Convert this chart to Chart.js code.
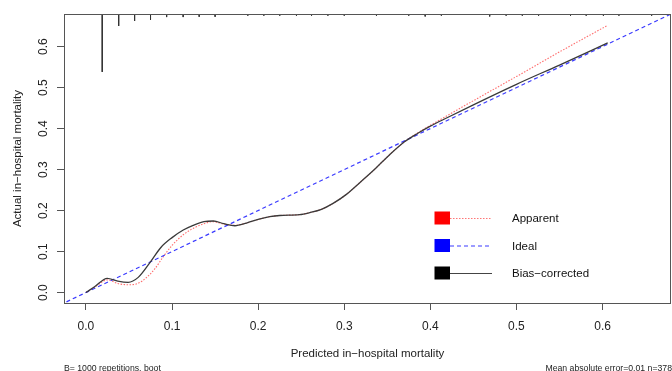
<!DOCTYPE html>
<html>
<head>
<meta charset="utf-8">
<script src="https://cdn.jsdelivr.net/npm/chart.js@4/dist/chart.umd.min.js"></script>
<style>
  html, body { margin: 0; padding: 0; background: #fff; }
  canvas { display: block; }
</style>
</head>
<body>
<canvas id="calib" width="672" height="371"></canvas>
<script>
// axis limits (same for both axes, R extends the range by 4%)
const axisMin = -0.0255;
const axisMax = 0.6795;
const tickValues = [0, 0.1, 0.2, 0.3, 0.4, 0.5, 0.6];
const tickLabels = ["0.0", "0.1", "0.2", "0.3", "0.4", "0.5", "0.6"];

// bias-corrected curve
const biasX = [0, 0.010, 0.0247, 0.037, 0.049, 0.0607, 0.0743, 0.087, 0.100, 0.113, 0.1245, 0.137, 0.148, 0.160, 0.173,
  0.1865, 0.200, 0.2135, 0.225, 0.248, 0.260, 0.2735, 0.287, 0.3025, 0.318, 0.335, 0.353, 0.370, 0.385, 0.400,
  0.420, 0.450, 0.500, 0.550, 0.606];
const biasY = [0, 0.014, 0.0348, 0.028, 0.025, 0.037, 0.073, 0.110, 0.134, 0.1525, 0.164, 0.173, 0.1745, 0.168, 0.163,
  0.1695, 0.1785, 0.185, 0.188, 0.190, 0.195, 0.203, 0.2175, 0.2395, 0.268, 0.300, 0.337, 0.368, 0.388, 0.406,
  0.427, 0.458, 0.508, 0.555, 0.609];

// apparent curve
const apparentX = [0, 0.010, 0.025, 0.037, 0.049, 0.060, 0.070, 0.080, 0.090, 0.100, 0.113, 0.125, 0.137, 0.148, 0.160, 0.173,
  0.1865, 0.200, 0.2135, 0.225, 0.248, 0.260, 0.2735, 0.287, 0.3025, 0.318, 0.335, 0.353, 0.370, 0.385, 0.400,
  0.420, 0.450, 0.500, 0.550, 0.606];
const apparentY = [0, 0.013, 0.031, 0.022, 0.019, 0.022, 0.036, 0.058, 0.088, 0.115, 0.141, 0.157, 0.168, 0.173, 0.167, 0.164,
  0.1695, 0.1785, 0.185, 0.188, 0.190, 0.195, 0.203, 0.2175, 0.2395, 0.268, 0.300, 0.337, 0.368, 0.389, 0.408,
  0.432, 0.468, 0.527, 0.587, 0.652];

// ideal line
const idealX = [-0.03, 0.69];
const idealY = [-0.03, 0.69];

// distribution of predictions (spikes hanging from the top)
const rugX = [0.0189, 0.038, 0.0565, 0.075, 0.0937, 0.1129, 0.1315, 0.150, 0.188, 0.2066, 0.2251, 0.2445, 0.262, 0.281, 0.300,
  0.3374, 0.3749, 0.394, 0.4128, 0.4689, 0.488, 0.5068, 0.5257, 0.5628, 0.581, 0.601, 0.619, 0.657];
const rugH = [0.1413, 0.0292, 0.0171, 0.0146, 0.0075, 0.0075, 0.0068, 0.0068, 0.004, 0.004, 0.004, 0.004, 0.004, 0.004, 0.004,
  0.004, 0.004, 0.006, 0.004, 0.006, 0.004, 0.004, 0.004, 0.004, 0.004, 0.004, 0.004, 0.004];

const legendItems = [
  { label: "Apparent", fill: "#ff0000", stroke: "rgba(255,60,60,0.7)", dash: [1.5, 1.5] },
  { label: "Ideal", fill: "#0000ff", stroke: "#3a3aff", dash: [4, 3] },
  { label: "Bias\u2212corrected", fill: "#000000", stroke: "#444", dash: [] }
];

const FONT = '"Liberation Sans", Arial, Helvetica, sans-serif';

function pts(xs, ys) {
  return xs.map((x, i) => ({ x, y: ys[i] }));
}

function rugPoints() {
  const out = [];
  rugX.forEach((x, i) => {
    out.push({ x, y: axisMax });
    out.push({ x, y: axisMax - rugH[i] });
    out.push({ x, y: null });
  });
  return out;
}

/* =======================
   TEXT, BOX, LEGEND
======================= */
const decorPlugin = {
  id: "decor",
  afterDraw(chart) {
    const ctx = chart.ctx;
    const a = chart.chartArea;
    const xs = chart.scales.x, ys = chart.scales.y;

    ctx.save();
    // box
    ctx.strokeStyle = "#555";
    ctx.lineWidth = 1;
    ctx.strokeRect(Math.round(a.left) + 0.5, Math.round(a.top) + 0.5,
      Math.round(a.right - a.left) - 1, Math.round(a.bottom - a.top));

    ctx.fillStyle = "#222";
    ctx.font = "12px " + FONT;
    ctx.textBaseline = "alphabetic";
    ctx.textAlign = "center";
    // x tick labels
    tickValues.forEach((v, i) => {
      ctx.fillText(tickLabels[i], xs.getPixelForValue(v), 330);
    });
    // y tick labels (rotated, R style)
    tickValues.forEach((v, i) => {
      ctx.save();
      ctx.translate(46.5, ys.getPixelForValue(v));
      ctx.rotate(-Math.PI / 2);
      ctx.fillText(tickLabels[i], 0, 0);
      ctx.restore();
    });

    // axis titles
    ctx.font = "11.5px " + FONT;
    ctx.fillText("Predicted in\u2212hospital mortality", (a.left + a.right) / 2, 357);
    ctx.save();
    ctx.translate(21, (a.top + a.bottom) / 2);
    ctx.rotate(-Math.PI / 2);
    ctx.fillText("Actual in\u2212hospital mortality", 0, 0);
    ctx.restore();

    // legend
    const legY = [218, 245.5, 273];
    legendItems.forEach((it, i) => {
      const cy = legY[i];
      ctx.fillStyle = it.fill;
      ctx.fillRect(434.5, cy - 6.5, 15.5, 13);
      ctx.strokeStyle = it.stroke;
      ctx.lineWidth = 1.1;
      ctx.setLineDash(it.dash);
      ctx.beginPath();
      ctx.moveTo(450, cy + 0.5);
      ctx.lineTo(492, cy + 0.5);
      ctx.stroke();
      ctx.setLineDash([]);
      ctx.fillStyle = "#111";
      ctx.textAlign = "left";
      ctx.fillText(it.label, 512, cy + 4.2);
    });

    // subtitles
    ctx.font = "8.7px " + FONT;
    ctx.fillStyle = "#222";
    ctx.textAlign = "left";
    ctx.fillText("B= 1000 repetitions, boot", 64, 370.5);
    ctx.textAlign = "right";
    ctx.fillText("Mean absolute error=0.01 n=378", 672, 370.5);
    ctx.restore();
  }
};

/* =======================
   CHART
======================= */
const lineBase = { showLine: true, pointRadius: 0, fill: false, clip: 0 };

new Chart(document.getElementById("calib"), {
  type: "scatter",
  data: {
    datasets: [
      { ...lineBase, label: "rug", data: rugPoints(), borderColor: "#333", borderWidth: 1, spanGaps: false, order: 0 },
      { ...lineBase, label: "Bias-corrected", data: pts(biasX, biasY), borderColor: "#3a3a3a", borderWidth: 1.3,
        cubicInterpolationMode: "monotone", order: 1 },
      { ...lineBase, label: "Ideal", data: pts(idealX, idealY), borderColor: "#3a3aff", borderWidth: 1.2,
        borderDash: [4, 3], order: 2 },
      { ...lineBase, label: "Apparent", data: pts(apparentX, apparentY), borderColor: "rgba(255,60,60,0.75)", borderWidth: 1.1,
        borderDash: [1.5, 1.5], cubicInterpolationMode: "monotone", order: 3 }
    ]
  },
  options: {
    responsive: false,
    animation: false,
    devicePixelRatio: 1,
    layout: { padding: { left: 0, right: 1, top: 14, bottom: 0 } },
    plugins: { legend: { display: false }, tooltip: { enabled: false } },
    scales: {
      x: {
        type: "linear",
        min: axisMin,
        max: axisMax,
        afterBuildTicks: s => { s.ticks = tickValues.map(v => ({ value: v })); },
        afterFit: s => { s.height = 68; },
        ticks: { display: false },
        grid: { drawOnChartArea: false, drawTicks: true, tickLength: 7, tickColor: "#555", color: "#555" },
        border: { display: false }
      },
      y: {
        type: "linear",
        min: axisMin,
        max: axisMax,
        afterBuildTicks: s => { s.ticks = tickValues.map(v => ({ value: v })); },
        afterFit: s => { s.width = 64; },
        ticks: { display: false },
        grid: { drawOnChartArea: false, drawTicks: true, tickLength: 7, tickColor: "#555", color: "#555" },
        border: { display: false }
      }
    }
  },
  plugins: [decorPlugin]
});
</script>
</body>
</html>
